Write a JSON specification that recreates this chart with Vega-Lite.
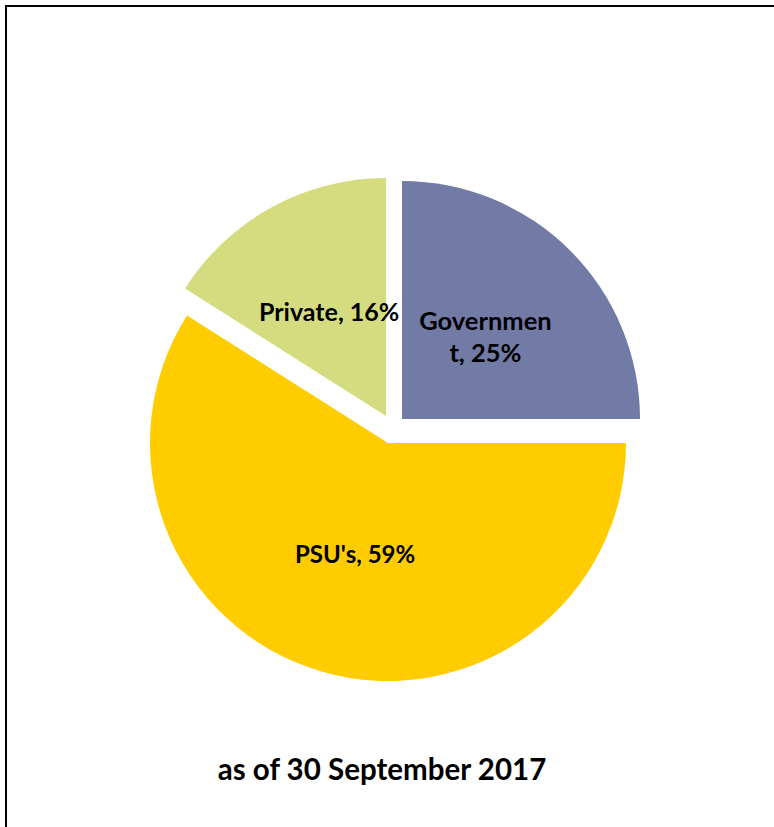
{
  "$schema": "https://vega.github.io/schema/vega-lite/v6.json",
  "width": 768,
  "height": 821,
  "autosize": {"type": "none"},
  "padding": {"left": 6, "top": 6, "right": 0, "bottom": 0},
  "background": "white",
  "view": {"stroke": "black", "strokeWidth": 2, "fill": "white", "strokeDash": [768, 1589, 821]},
  "config": {
    "font": "Lato"
  },
  "title": {
    "text": "as of 30 September 2017",
    "orient": "bottom",
    "anchor": "middle",
    "offset": -70,
    "dx": -8,
    "fontSize": 29.5,
    "fontWeight": "bold",
    "font": "Lato",
    "color": "black"
  },
  "data": {
    "values": [
      {"category": "Government", "value": 25, "label": "Governmen\nt, 25%"},
      {"category": "PSU's", "value": 59, "label": "PSU's, 59%"},
      {"category": "Private", "value": 16, "label": "Private, 16%"}
    ]
  },
  "transform": [
    {"stack": "value", "groupby": [], "sort": [{"field": "category", "order": "ascending"}], "as": ["v0", "v1"]},
    {"calculate": "(datum.v0 + datum.v1) / 2", "as": "mid"}
  ],
  "encoding": {
    "theta": {"field": "v0", "type": "quantitative", "scale": {"domain": [0, 100], "range": [0, 6.283185307]}}
  },
  "layer": [
    {
      "transform": [{"filter": "datum.category === 'Government'"}],
      "mark": {"type": "arc", "outerRadius": 238, "xOffset": 12, "yOffset": 2.5, "color": "#717BA6"},
      "encoding": {"theta2": {"field": "v1"}}
    },
    {
      "transform": [{"filter": "datum.category === \"PSU's\""}],
      "mark": {"type": "arc", "outerRadius": 238, "xOffset": -2, "yOffset": 26.5, "color": "#FFCC00"},
      "encoding": {"theta2": {"field": "v1"}}
    },
    {
      "transform": [{"filter": "datum.category === 'Private'"}],
      "mark": {"type": "arc", "outerRadius": 238, "xOffset": -4, "yOffset": -0.5, "color": "#D5DC80"},
      "encoding": {"theta2": {"field": "v1"}}
    },
    {
      "transform": [{"filter": "datum.category === 'Government'"}],
      "mark": {"type": "text", "radius": 118, "xOffset": 12, "yOffset": -11.5, "fontSize": 25.5, "fontWeight": "bold", "font": "Lato", "color": "black", "align": "center", "baseline": "middle", "lineBreak": "\n", "lineHeight": 32},
      "encoding": {
        "theta": {"field": "mid", "type": "quantitative", "scale": {"domain": [0, 100], "range": [0, 6.283185307]}},
        "text": {"field": "label"}
      }
    },
    {
      "transform": [{"filter": "datum.category === \"PSU's\""}],
      "mark": {"type": "text", "radius": 118, "xOffset": -2, "yOffset": 26.5, "fontSize": 24, "fontWeight": "bold", "font": "Lato", "color": "black", "align": "center", "baseline": "middle"},
      "encoding": {
        "theta": {"field": "mid", "type": "quantitative", "scale": {"domain": [0, 100], "range": [0, 6.283185307]}},
        "text": {"field": "label"}
      }
    },
    {
      "transform": [{"filter": "datum.category === 'Private'"}],
      "mark": {"type": "text", "radius": 118, "xOffset": -4, "yOffset": -0.5, "fontSize": 25, "fontWeight": "bold", "font": "Lato", "color": "black", "align": "center", "baseline": "middle"},
      "encoding": {
        "theta": {"field": "mid", "type": "quantitative", "scale": {"domain": [0, 100], "range": [0, 6.283185307]}},
        "text": {"field": "label"}
      }
    }
  ]
}
